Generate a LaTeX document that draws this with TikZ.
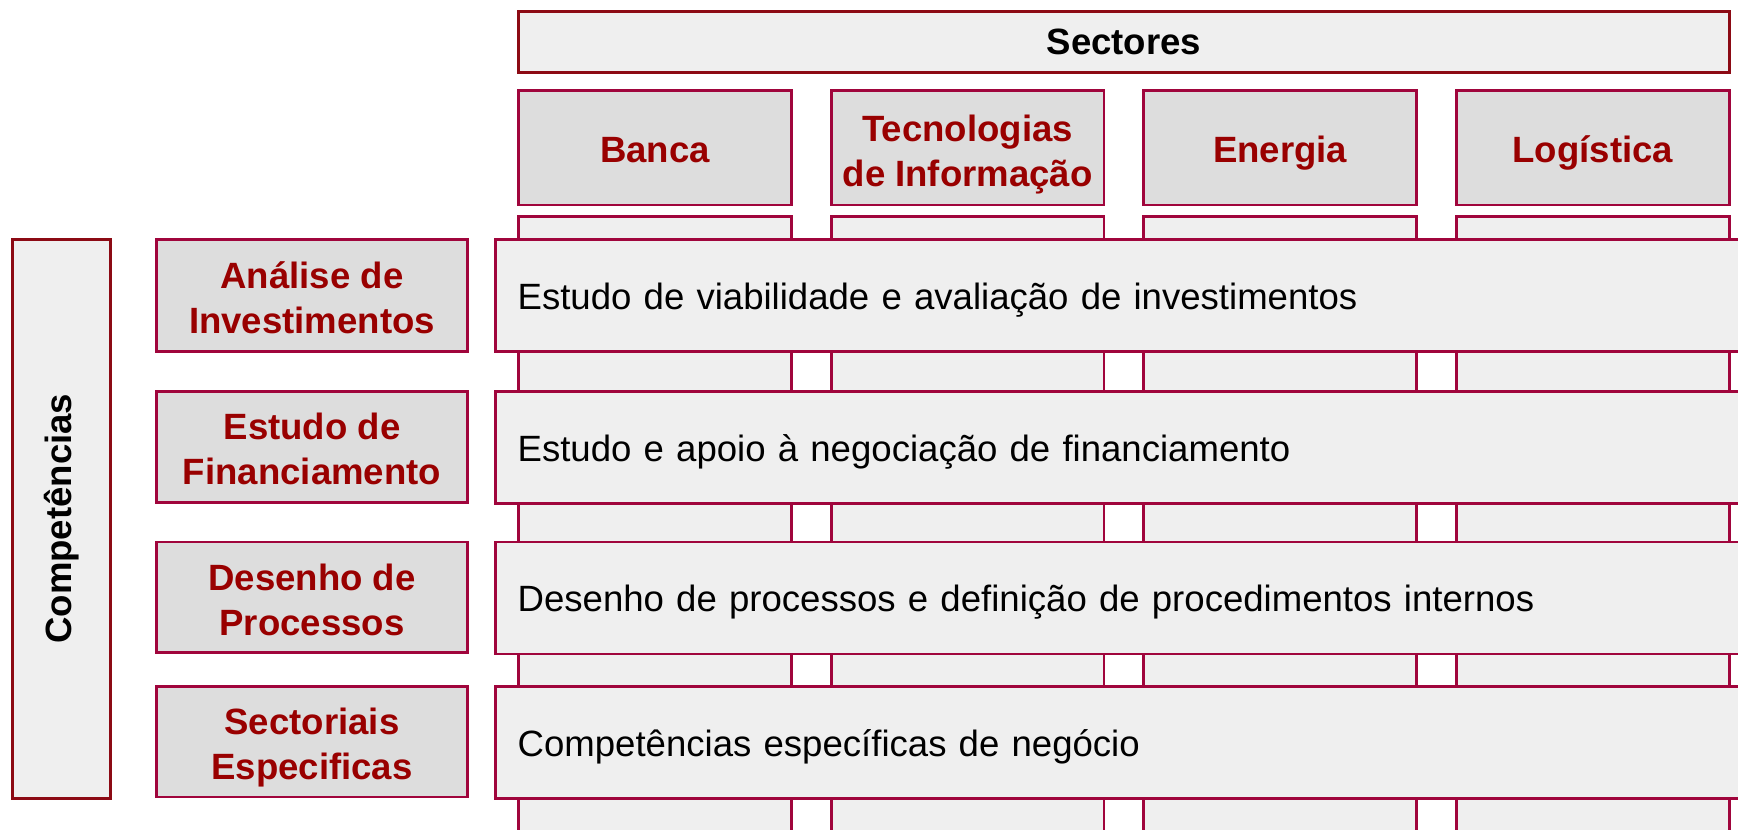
\documentclass[tikz,border=0pt]{standalone}
\usepackage{fontspec}
\setmainfont{Liberation Sans}
\definecolor{bord}{HTML}{A0053C}
\definecolor{bordd}{HTML}{8C0A14}
\definecolor{txtred}{HTML}{990000}
\definecolor{lightf}{HTML}{EFEFEF}
\definecolor{boxf}{HTML}{DDDDDD}
\newcommand{\myfont}{\fontsize{16.5}{20.3}\selectfont}
\newcommand{\dn}[2][2pt]{\raisebox{-#1}[\height][\depth]{\begin{tabular}{@{}c@{}}#2\end{tabular}}}
\newcommand{\dnl}[1]{\raisebox{-2pt}[\height][\depth]{#1}}
\begin{document}
\begin{tikzpicture}[x=0.5pt,y=-0.5pt,
  base/.style={draw=bord, line width=1.3pt, inner sep=0pt, outer sep=0pt, font=\myfont},
  strip/.style={base, fill=lightf, anchor=north west, minimum width=123pt, minimum height=290pt},
  hdr/.style={base, fill=boxf, text=txtred, font=\myfont\bfseries, align=center,
              anchor=north west, minimum width=123pt, minimum height=51.5pt},
  comp/.style={base, fill=boxf, text=txtred, font=\myfont\bfseries, align=center,
              anchor=north west, minimum width=140.5pt},
  rowbar/.style={base, fill=lightf, anchor=north west, align=left, text width=560pt,
              inner xsep=10pt, inner ysep=0pt, minimum height=50.5pt},
  title/.style={base, draw=bordd, fill=lightf, font=\myfont\bfseries, anchor=north west}
]
\clip (0,0) rectangle (1568,748);
\fill[white] (0,0) rectangle (1568,748);
% title
\node[title, minimum width=546pt, minimum height=27.4pt] (sect) at (468,10.5) {Sectores};
% column strips
\node[strip] (s1) at (468,195) {};
\node[strip] (s2) at (750,195) {};
\node[strip] (s3) at (1032,195) {};
\node[strip] (s4) at (1314,195) {};
% column headers
\node[hdr] (h1) at (468,82) {\dn[2.5pt]{Banca}};
\node[hdr] (h2) at (750,82) {\dn[3pt]{Tecnologias\\de Informação}};
\node[hdr] (h3) at (1032,82) {\dn[2.5pt]{Energia}};
\node[hdr] (h4) at (1314,82) {\dn[2.5pt]{Logística}};
% row bars
\node[rowbar] (r1) at (447,216) {\dnl{Estudo de viabilidade e avaliação de investimentos}};
\node[rowbar] (r2) at (447,353) {\dnl{Estudo e apoio à negociação de financiamento}};
\node[rowbar] (r3) at (447,489) {\dnl{Desenho de processos e definição de procedimentos internos}};
\node[rowbar] (r4) at (447,619) {\dnl{Competências específicas de negócio}};
% competence boxes
\node[comp, minimum height=50.5pt] (c1) at (141,216) {\dn[2.9pt]{Análise de\\Investimentos}};
\node[comp, minimum height=50pt] (c2) at (141,353) {\dn[2.9pt]{Estudo de\\Financiamento}};
\node[comp, minimum height=50pt] (c3) at (141,489) {\dn[2.9pt]{Desenho de\\Processos}};
\node[comp, minimum height=50pt] (c4) at (141,619) {\dn[2.9pt]{Sectoriais\\Especificas}};
% side label
\node[base, draw=bordd, fill=lightf, anchor=north west, minimum width=44.5pt, minimum height=252pt] (side) at (11,216) {};
\node[font=\myfont\bfseries, rotate=90] (sidet) at (side.center) {Competências};
\end{tikzpicture}
\end{document}
